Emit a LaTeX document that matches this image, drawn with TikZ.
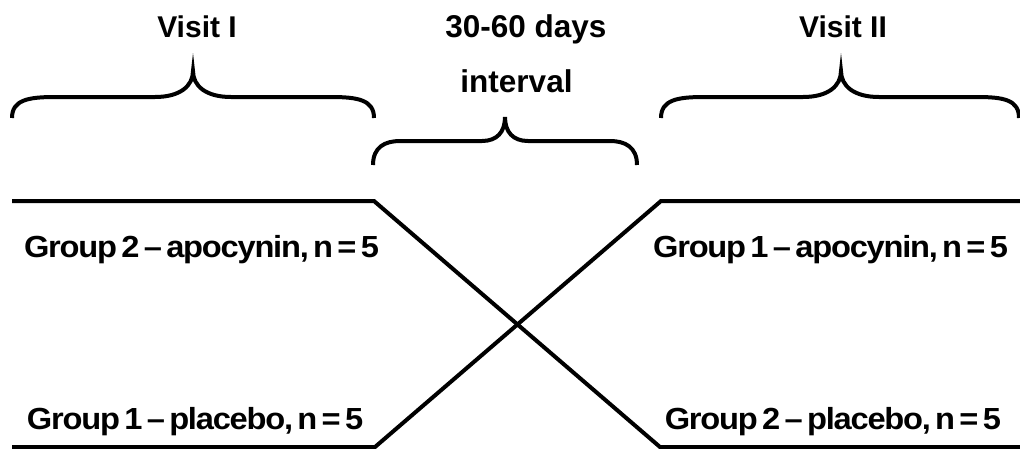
\documentclass[tikz,border=0pt]{standalone}
\usepackage{fontspec}
\setmainfont{Liberation Sans}
\newfontfamily\grpfont[FakeStretch=1.07,LetterSpace=-4,WordSpace=0.55]{Liberation Sans}
\begin{document}
\begin{tikzpicture}[x=1pt,y=-1pt,
  lbl/.style={inner sep=0pt,outer sep=0pt,font=\fontsize{30}{32}\selectfont\bfseries},
  midlbl/.style={lbl,font=\fontsize{31.5}{33}\selectfont\bfseries},
  grp/.style={inner sep=0pt,outer sep=0pt,font=\grpfont\fontsize{30.5}{32}\selectfont\bfseries},
  ln/.style={line width=4pt,black},
  brace/.style={line width=4pt,black,line cap=butt}]
\useasboundingbox (0,0) rectangle (1020,448);

% headers
\node[lbl,anchor=base] (v1) at (197,37) {Visit I};
\node[midlbl,anchor=base] (iv1) at (526,37) {30-60 days};
\node[midlbl,anchor=base] (iv2) at (516.5,92) {interval};
\node[lbl,anchor=base] (v2) at (843,37) {Visit II};

% braces
\draw[brace] (12,118) .. controls (12,100) and (28,97) .. (55,97) -- (155,97)
  .. controls (180,97) and (193,86) .. (193,71)
  .. controls (193,86) and (206,97) .. (231,97) -- (331,97)
  .. controls (358,97) and (374,100) .. (374,118);
\draw[brace] (373,165) .. controls (373,147) and (385,141) .. (400,141) -- (482,141)
  .. controls (497,141) and (505,132) .. (505,117)
  .. controls (505,132) and (513,141) .. (528,141) -- (610,141)
  .. controls (625,141) and (637,147) .. (637,165);
\draw[brace] (661,118) .. controls (661,100) and (677,97) .. (704,97) -- (803,97)
  .. controls (828,97) and (841,86) .. (841,71)
  .. controls (841,86) and (854,97) .. (879,97) -- (977,97)
  .. controls (1004,97) and (1019,100) .. (1019,118);

% crossing lines
\coordinate (tl) at (12,201);
\coordinate (tlc) at (374,201);
\coordinate (brc) at (660,447);
\coordinate (br) at (1022,447);
\coordinate (tr) at (1022,201);
\coordinate (trc) at (661,201);
\coordinate (blc) at (375,447);
\coordinate (bl) at (12,447);
\draw[ln] (tl) -- (tlc) -- (brc) -- (br);
\draw[ln] (tr) -- (trc) -- (blc) -- (bl);

% groups
\node[grp,anchor=base west] (g2a) at (24,257) {Group 2 – apocynin, n = 5};
\node[grp,anchor=base west] (g1p) at (27,429) {Group 1 – placebo, n = 5};
\node[grp,anchor=base east] (g1a) at (1008,257) {Group 1 – apocynin, n = 5};
\node[grp,anchor=base east] (g2p) at (1001,429) {Group 2 – placebo, n = 5};
\end{tikzpicture}
\end{document}
